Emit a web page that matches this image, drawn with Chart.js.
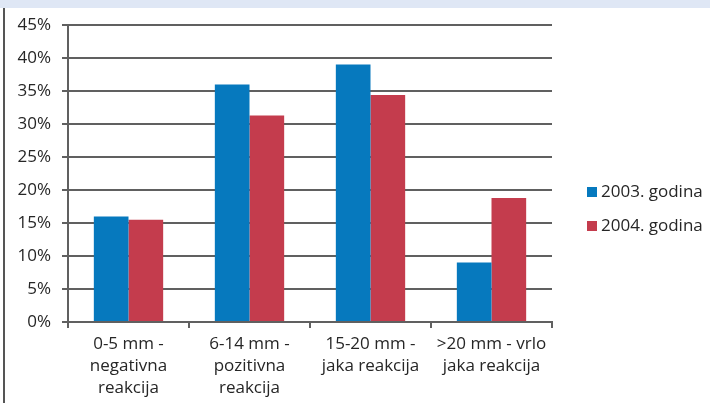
<!DOCTYPE html>
<html>
<head>
<meta charset="utf-8">
<script src="https://cdn.jsdelivr.net/npm/chart.js@4"></script>
<style>
  html, body { margin: 0; padding: 0; background: #fff; }
  #wrap { width: 710px; height: 403px; position: relative; }
</style>
</head>
<body>
<div id="wrap"><canvas id="chart" width="710" height="403"></canvas></div>
<script>
// podaci
const categories = [
  ['0-5 mm -', 'negativna', 'reakcija'],
  ['6-14 mm -', 'pozitivna', 'reakcija'],
  ['15-20 mm -', 'jaka reakcija'],
  ['>20 mm - vrlo', 'jaka reakcija']
];
const seriesNames = ['2003. godina', '2004. godina'];
const values2003 = [16, 36, 39, 9];
const values2004 = [15.5, 31.3, 34.4, 18.8];
const yTicks = [0, 5, 10, 15, 20, 25, 30, 35, 40, 45];

const colors = ['#0679be', '#c43c4d'];
const fontFam = '"Open Sans", "Noto Sans", sans-serif';

// pozadina, gornja traka i lijeva linija
const framePlugin = {
  id: 'frame',
  beforeDraw(chart) {
    const ctx = chart.ctx;
    ctx.save();
    ctx.fillStyle = '#fff';
    ctx.fillRect(0, 0, chart.width, chart.height);
    ctx.fillStyle = '#dfe7f5';
    ctx.fillRect(0, 0, chart.width, 8);
    ctx.fillStyle = '#555';
    ctx.fillRect(3, 8, 2, chart.height - 8);
    ctx.restore();
  }
};

// legenda desno
const legendPlugin = {
  id: 'sideLegend',
  afterDraw(chart) {
    const ctx = chart.ctx;
    ctx.save();
    ctx.font = '17px ' + fontFam;
    ctx.textBaseline = 'middle';
    chart.data.datasets.forEach((ds, i) => {
      const y = 192 + i * 34;
      ctx.fillStyle = ds.backgroundColor;
      ctx.fillRect(587, y - 5, 10, 10);
      ctx.fillStyle = '#262626';
      ctx.fillText(ds.label, 601, y);
    });
    ctx.restore();
  }
};

new Chart(document.getElementById('chart'), {
  type: 'bar',
  data: {
    labels: categories,
    datasets: [
      { label: seriesNames[0], data: values2003, backgroundColor: colors[0] },
      { label: seriesNames[1], data: values2004, backgroundColor: colors[1] }
    ]
  },
  options: {
    responsive: false,
    animation: false,
    categoryPercentage: 0.573,
    barPercentage: 1,
    layout: { padding: { top: 25, right: 158, bottom: 0, left: 0 } },
    plugins: {
      legend: { display: false },
      tooltip: { enabled: false }
    },
    scales: {
      x: {
        offset: true,
        grid: {
          offset: true,
          drawOnChartArea: false,
          drawTicks: true,
          tickLength: 6,
          color: '#606060',
          lineWidth: 2
        },
        border: { display: true, color: '#606060', width: 2 },
        ticks: {
          color: '#262626',
          font: { family: fontFam, size: 17, lineHeight: 1.3 },
          padding: 5,
          maxRotation: 0,
          autoSkip: false
        },
        afterFit(scale) { scale.height = 81; }
      },
      y: {
        min: 0,
        max: 45,
        afterBuildTicks(scale) { scale.ticks = yTicks.map(v => ({ value: v })); },
        grid: {
          color: '#606060',
          lineWidth: 2,
          drawTicks: true,
          tickLength: 6
        },
        border: { display: true, color: '#606060', width: 2 },
        ticks: {
          color: '#262626',
          font: { family: fontFam, size: 17 },
          padding: 11,
          callback: v => v + '%'
        },
        afterFit(scale) { scale.width = 68; }
      }
    }
  },
  plugins: [framePlugin, legendPlugin]
});
</script>
</body>
</html>
